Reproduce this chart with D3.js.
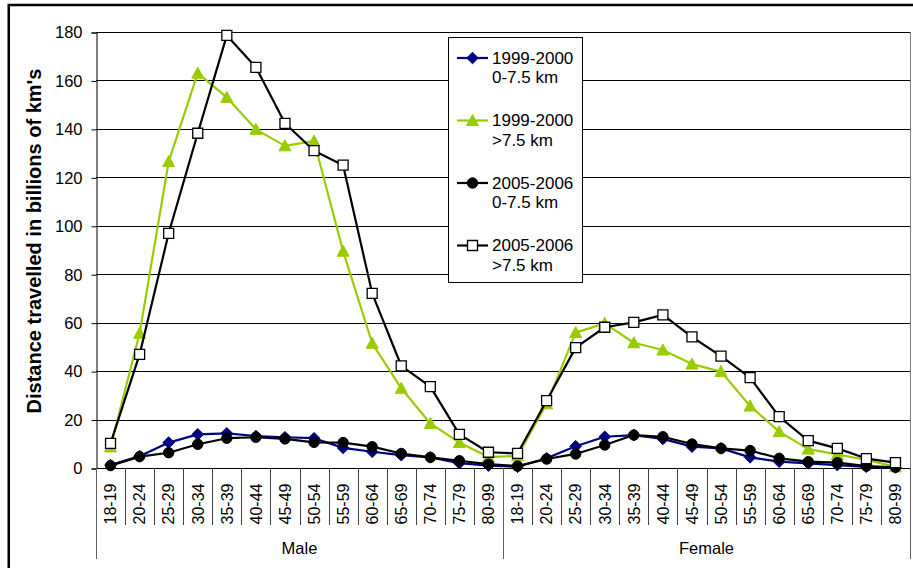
<!DOCTYPE html>
<html>
<head>
<meta charset="utf-8">
<script src="https://cdn.jsdelivr.net/npm/d3@7"></script>
<style>
  html, body { margin: 0; padding: 0; background: #fff; }
  svg { display: block; font-family: "Liberation Sans", Arial, sans-serif; }
</style>
</head>
<body>
<svg id="chart" width="913" height="568"></svg>
<script>
// Age bands, repeated for each sex
const categories = ["18-19","20-24","25-29","30-34","35-39","40-44","45-49","50-54","55-59","60-64","65-69","70-74","75-79","80-99"];
const groups = ["Male", "Female"];

// Distance travelled (billions of km), Male values followed by Female values
const near1999Male   = [1.2, 4.9, 10.5, 13.9, 14.3, 13.2, 12.7, 12.3, 8.3, 6.7, 5.3, 4.4, 2.0, 1.0];
const near1999Female = [0.5, 4.0, 9.0, 12.9, 13.6, 12.0, 8.8, 8.1, 4.4, 2.6, 1.9, 1.2, 0.5, 0.2];
const far1999Male    = [8.7, 55.6, 126.5, 163.0, 153.0, 139.8, 133.0, 135.0, 89.5, 51.5, 32.9, 18.4, 10.5, 4.5];
const far1999Female  = [5.0, 26.5, 55.9, 59.7, 51.7, 48.7, 42.9, 39.8, 25.6, 15.0, 7.8, 5.6, 3.3, 0.5];
const near2005Male   = [1.0, 4.7, 6.3, 9.8, 12.3, 12.7, 12.0, 10.6, 10.5, 8.8, 6.0, 4.4, 3.0, 1.6];
const near2005Female = [0.8, 3.7, 5.8, 9.5, 13.6, 12.9, 9.9, 8.1, 7.2, 4.0, 2.6, 2.2, 0.8, 0.3];
const far2005Male    = [10.2, 46.9, 96.9, 138.2, 178.6, 165.4, 142.3, 131.0, 125.0, 72.1, 42.2, 33.6, 13.9, 6.5];
const far2005Female  = [6.0, 27.8, 49.7, 58.1, 60.1, 63.2, 54.1, 46.2, 37.3, 21.2, 11.3, 8.1, 3.9, 2.2];

const yTicks = [0, 20, 40, 60, 80, 100, 120, 140, 160, 180];
const yTitle = "Distance travelled in billions of km's";

const series = [
  { name: ["1999-2000", "0-7.5 km"], male: near1999Male, female: near1999Female, color: "#000080", marker: "diamond", fill: "#000080" },
  { name: ["1999-2000", ">7.5 km"],  male: far1999Male,  female: far1999Female,  color: "#99cc00", marker: "triangle", fill: "#99cc00" },
  { name: ["2005-2006", "0-7.5 km"], male: near2005Male, female: near2005Female, color: "#000000", marker: "circle", fill: "#000000" },
  { name: ["2005-2006", ">7.5 km"],  male: far2005Male,  female: far2005Female,  color: "#000000", marker: "square", fill: "#ffffff" }
];

const keys = [];
groups.forEach(g => categories.forEach(c => keys.push(g + "|" + c)));

const svg = d3.select("#chart");
const plotLeft = 96, plotRight = 910, plotTop = 32, plotBottom = 468;

const x = d3.scaleBand().domain(keys).range([plotLeft, plotRight]);
const y = d3.scaleLinear().domain([0, 180]).range([plotBottom, plotTop]);

// outer frame
svg.append("rect")
  .attr("x", 8.75).attr("y", 5).attr("width", 1000).attr("height", 700)
  .attr("fill", "none").attr("stroke", "#000").attr("stroke-width", 2.5);

// horizontal gridlines
svg.append("g").selectAll("line").data(yTicks.filter(t => t > 0)).join("line")
  .attr("x1", plotLeft).attr("x2", plotRight)
  .attr("y1", d => Math.round(y(d)) + 0.5).attr("y2", d => Math.round(y(d)) + 0.5)
  .attr("stroke", "#000").attr("stroke-width", 1);

// right border of plot area
svg.append("line")
  .attr("x1", plotRight + 0.5).attr("x2", plotRight + 0.5).attr("y1", plotTop).attr("y2", plotBottom)
  .attr("stroke", "#808080").attr("stroke-width", 1);

// y axis
const yAxis = svg.append("g")
  .attr("transform", `translate(${plotLeft + 0.5},0.5)`)
  .call(d3.axisLeft(y).tickValues(yTicks).tickSize(5).tickPadding(9));
yAxis.select(".domain").attr("stroke", "#000");
yAxis.selectAll(".tick line").attr("stroke", "#000");
yAxis.selectAll("text").attr("font-size", 16.5).attr("fill", "#000")
  .attr("font-family", "'Liberation Sans', Arial, sans-serif");

// y axis title
svg.append("text")
  .attr("transform", `translate(41, ${(plotTop + plotBottom) / 2 - 9}) rotate(-90)`)
  .attr("text-anchor", "middle")
  .attr("font-size", 20).attr("font-weight", "bold")
  .text(yTitle);

// category axis with multi-level labels
const xAxis = svg.append("g")
  .attr("transform", `translate(0,${plotBottom + 0.5})`)
  .call(d3.axisBottom(x).tickSize(0).tickFormat(k => k.split("|")[1]));
xAxis.select(".domain").remove();
xAxis.selectAll("text")
  .attr("font-size", 16).attr("fill", "#000")
  .attr("font-family", "'Liberation Sans', Arial, sans-serif")
  .attr("text-anchor", "end")
  .attr("transform", "rotate(-90)")
  .attr("x", -15).attr("y", 0).attr("dy", "0.36em");

svg.append("line")
  .attr("x1", plotLeft).attr("x2", plotRight + 1)
  .attr("y1", plotBottom + 0.5).attr("y2", plotBottom + 0.5)
  .attr("stroke", "#000");

// separators between age bands
svg.append("g").selectAll("line").data(keys.slice(1)).join("line")
  .attr("x1", d => Math.round(x(d)) + 0.5).attr("x2", d => Math.round(x(d)) + 0.5)
  .attr("y1", plotBottom).attr("y2", 525)
  .attr("stroke", "#404040");

// separators between sex groups (extend down through group labels)
const groupEdges = [plotLeft, x("Female|" + categories[0]), plotRight];
svg.append("g").selectAll("line").data(groupEdges).join("line")
  .attr("x1", d => Math.round(d) + 0.5).attr("x2", d => Math.round(d) + 0.5)
  .attr("y1", plotBottom).attr("y2", 559)
  .attr("stroke", "#606060");

svg.append("g").selectAll("text").data(groups).join("text")
  .attr("x", (g, i) => (groupEdges[i] + groupEdges[i + 1]) / 2)
  .attr("y", 554)
  .attr("text-anchor", "middle")
  .attr("font-size", 16.5)
  .text(g => g);

// marker shapes
function markerPath(type) {
  switch (type) {
    case "diamond": return "M0,-5.8L5.8,0L0,5.8L-5.8,0Z";
    case "triangle": return "M0,-6L6,5L-6,5Z";
    case "circle": return d3.symbol(d3.symbolCircle, 85)();
    case "square": return "M-5,-5H5V5H-5Z";
  }
}

const line = d3.line().x(d => x(d.key) + x.bandwidth() / 2).y(d => y(d.value));

series.forEach(s => {
  const pts = keys.map((k, i) => ({ key: k, value: i < categories.length ? s.male[i] : s.female[i - categories.length] }));
  const g = svg.append("g");
  g.append("path").datum(pts)
    .attr("d", line)
    .attr("fill", "none").attr("stroke", s.color).attr("stroke-width", 2.2)
    .attr("stroke-linejoin", "round");
  g.selectAll("path.m").data(pts).join("path").attr("class", "m")
    .attr("transform", d => `translate(${x(d.key) + x.bandwidth() / 2},${y(d.value)})`)
    .attr("d", markerPath(s.marker))
    .attr("fill", s.fill)
    .attr("stroke", s.marker === "square" ? "#000" : s.color)
    .attr("stroke-width", s.marker === "square" ? 1.3 : 1);
});

// legend
const lg = svg.append("g");
lg.append("rect")
  .attr("x", 448.5).attr("y", 37.5).attr("width", 134).attr("height", 245)
  .attr("fill", "#fff").attr("stroke", "#000").attr("stroke-width", 1);
series.forEach((s, i) => {
  const cy = 58 + i * 62.5;
  lg.append("line").attr("x1", 457).attr("x2", 488).attr("y1", cy).attr("y2", cy)
    .attr("stroke", s.color).attr("stroke-width", 2.2);
  lg.append("path").attr("transform", `translate(472.5,${cy})`)
    .attr("d", markerPath(s.marker))
    .attr("fill", s.fill)
    .attr("stroke", s.marker === "square" ? "#000" : s.color)
    .attr("stroke-width", s.marker === "square" ? 1.3 : 1);
  const t = lg.append("text").attr("x", 492).attr("y", cy + 5.5).attr("font-size", 17);
  t.append("tspan").attr("x", 492).text(s.name[0]);
  t.append("tspan").attr("x", 492).attr("dy", 19.5).text(s.name[1]);
});
</script>
</body>
</html>
